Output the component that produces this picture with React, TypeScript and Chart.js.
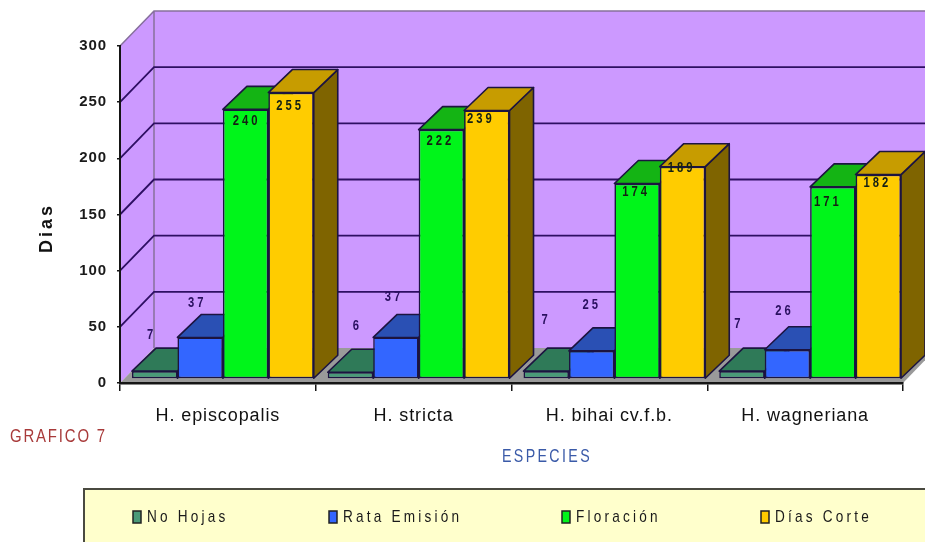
import { useEffect, useRef } from "react";
import { Chart, registerables } from "chart.js";

Chart.register(...registerables);

const categories = ["H. episcopalis", "H. stricta", "H. bihai cv.f.b.", "H. wagneriana"];
const noHojas = [7, 6, 7, 7];
const rataEmision = [37, 37, 25, 26];
const floracion = [240, 222, 174, 171];
const diasCorte = [255, 239, 189, 182];
const seriesNames = ["No Hojas", "Rata Emisión", "Floración", "Días Corte"];
const yAxisName = "Dias";
const xAxisName = "ESPECIES";
const sideNote = "GRAFICO 7";

// styles
const FRONT = ["#4a9a78", "#3366ff", "#00f51a", "#ffcc00"];
const TOP = ["#2f7a58", "#2a50b4", "#14b414", "#c79c00"];
const SIDE = ["#235c42", "#1f3c88", "#0e800e", "#7f6400"];
const INK = "#1c1440";
const FONT = '"Liberation Sans", Arial, sans-serif';
// floor/wall depth, bar inset and bar depth, in pixels
const WALL = { dx: 34, dy: -35 };
const INSET = { dx: 5, dy: -4 };
const DEPTH = { dx: 24, dy: -23 };
// hand-moved value labels: [dx, dy from the bar's top] per series, per category
const LABEL_NUDGE = [
  [[-3, -36], [7, -46], [0, -51], [-3, -47]],
  [[-3, -35], [-2, -41], [0, -46], [-3, -39]],
  [[1, 11], [-1, 11], [-1, 8], [-5, 15]],
  [[-1, 13], [-6, 8], [-1, 1], [-1, 8]],
];
const LEGEND_BOX = { x: 84, y: 489 };
const LEGEND_X = [137, 333, 566, 765];

function text(ctx: CanvasRenderingContext2D, s: string, x: number, y: number, font: string, color: string, spacing: number, align: CanvasTextAlign = "center", squeeze = 1) {
  ctx.save();
  ctx.translate(x, y);
  ctx.scale(squeeze, 1);
  ctx.font = font;
  ctx.fillStyle = color;
  ctx.textAlign = align;
  ctx.textBaseline = "middle";
  (ctx as any).letterSpacing = spacing + "px";
  ctx.fillText(s, 0, 0);
  ctx.restore();
}

const poly = (ctx: CanvasRenderingContext2D, pts: number[][], fill: string, stroke?: string, lw = 1) => {
  ctx.beginPath();
  pts.forEach((p, i) => (i ? ctx.lineTo(p[0], p[1]) : ctx.moveTo(p[0], p[1])));
  ctx.closePath();
  ctx.fillStyle = fill;
  ctx.fill();
  if (stroke) {
    ctx.strokeStyle = stroke;
    ctx.lineWidth = lw;
    ctx.stroke();
  }
};

const scene = {
  id: "scene",
  beforeDraw(chart: any) {
    const { ctx, chartArea: a, scales } = chart;
    const { dx, dy } = WALL;
    ctx.save();
    // walls and floor
    poly(ctx, [[a.left + dx, a.top + dy], [a.right + dx, a.top + dy], [a.right + dx, a.bottom + dy], [a.left + dx, a.bottom + dy]], "#cc99ff");
    poly(ctx, [[a.left, a.top], [a.left + dx, a.top + dy], [a.left + dx, a.bottom + dy], [a.left, a.bottom]], "#cc99ff");
    poly(ctx, [[a.left, a.bottom], [a.right, a.bottom], [a.right + dx, a.bottom + dy], [a.left + dx, a.bottom + dy]], "#9a9a9a");
    // wall edges
    ctx.strokeStyle = "#86709c";
    ctx.lineWidth = 1.5;
    ctx.beginPath();
    ctx.moveTo(a.left, a.top);
    ctx.lineTo(a.left + dx, a.top + dy);
    ctx.lineTo(a.right + dx + 5, a.top + dy);
    ctx.moveTo(a.left + dx, a.top + dy);
    ctx.lineTo(a.left + dx, a.bottom + dy);
    ctx.stroke();
    // gridlines along the side wall and back wall
    ctx.strokeStyle = "#2e0f63";
    ctx.lineWidth = 1.8;
    scales.y.ticks.forEach((t: any) => {
      if (t.value === 0 || t.value === 300) return;
      const y = scales.y.getPixelForValue(t.value);
      ctx.beginPath();
      ctx.moveTo(a.left, y);
      ctx.lineTo(a.left + dx, y + dy);
      ctx.lineTo(a.right + dx + 5, y + dy);
      ctx.stroke();
    });
    // legend panel, running off the picture
    ctx.fillStyle = "#ffffcc";
    ctx.fillRect(LEGEND_BOX.x, LEGEND_BOX.y, 925, 80);
    ctx.strokeStyle = "#4a4a40";
    ctx.lineWidth = 2;
    ctx.strokeRect(LEGEND_BOX.x, LEGEND_BOX.y, 925, 80);
    ctx.restore();
    (ctx as any).letterSpacing = "0.9px";
  },
  beforeDatasetsDraw(chart: any) {
    const { ctx, data } = chart;
    ctx.save();
    ctx.lineJoin = "round";
    data.labels.forEach((_: string, c: number) => {
      data.datasets.forEach((_d: any, s: number) => {
        const bar = chart.getDatasetMeta(s).data[c];
        const half = bar.width / 2;
        const l = bar.x - half + INSET.dx;
        const r = bar.x + half + INSET.dx;
        const t = bar.y + INSET.dy;
        const b = bar.base + INSET.dy;
        poly(ctx, [[r, t], [r + DEPTH.dx, t + DEPTH.dy], [r + DEPTH.dx, b + DEPTH.dy], [r, b]], SIDE[s], INK, 1.6);
        poly(ctx, [[l, t], [r, t], [r + DEPTH.dx, t + DEPTH.dy], [l + DEPTH.dx, t + DEPTH.dy]], TOP[s], INK, 1.6);
      });
    });
    ctx.restore();
  },
  beforeDatasetDraw(chart: any) {
    chart.ctx.save();
    chart.ctx.translate(INSET.dx, INSET.dy);
  },
  afterDatasetDraw(chart: any) {
    chart.ctx.restore();
  },
  afterDraw(chart: any) {
    const { ctx, data } = chart;
    ctx.save();
    // value labels
    data.datasets.forEach((d: any, s: number) => {
      chart.getDatasetMeta(s).data.forEach((bar: any, c: number) => {
        const [nx, ny] = LABEL_NUDGE[s][c];
        const color = s < 2 ? "#2a1060" : "#142014";
        text(ctx, String(d.data[c]), bar.x + INSET.dx + nx, bar.y + INSET.dy + ny, `bold 15px ${FONT}`, color, 4, "center", 0.75);
      });
    });
    // axis names and note
    ctx.save();
    ctx.translate(47, 228);
    ctx.rotate(-Math.PI / 2);
    text(ctx, yAxisName, 0, 0, `bold 18px ${FONT}`, "#111", 3);
    ctx.restore();
    text(ctx, xAxisName, 547, 457, `18px ${FONT}`, "#3a5aa8", 3, "center", 0.79);
    text(ctx, sideNote, 10, 437, `18px ${FONT}`, "#a83a3a", 2.2, "left", 0.83);
    // legend
    data.datasets.forEach((d: any, s: number) => {
      const x = LEGEND_X[s];
      ctx.fillStyle = FRONT[s];
      ctx.fillRect(x - 4, 511, 8, 12);
      ctx.strokeStyle = "#222";
      ctx.lineWidth = 1.5;
      ctx.strokeRect(x - 4, 511, 8, 12);
      text(ctx, d.label, x + 10, 517, `17px ${FONT}`, "#1a1a1a", 4, "left", 0.8);
    });
    ctx.restore();
  },
};

export default function App() {
  const ref = useRef<HTMLCanvasElement>(null);
  useEffect(() => {
    const values = [noHojas, rataEmision, floracion, diasCorte];
    const chart = new Chart(ref.current!, {
      type: "bar",
      data: {
        labels: categories,
        datasets: values.map((v, i) => ({
          label: seriesNames[i],
          data: v,
          backgroundColor: FRONT[i],
          borderColor: INK,
          borderWidth: 1.6,
          borderSkipped: false,
          categoryPercentage: 182 / 196,
          barPercentage: 1,
        })),
      },
      options: {
        animation: false,
        responsive: false,
        devicePixelRatio: 1,
        layout: { padding: { top: 46, right: 22, left: 0, bottom: 0 } },
        plugins: { legend: { display: false }, title: { display: false }, tooltip: { enabled: false } },
        scales: {
          x: {
            afterFit: (s: any) => { s.height = 159; },
            grid: { drawOnChartArea: false, offset: true, tickLength: 8, color: "#151515", lineWidth: 1.5 },
            border: { color: "#151515", width: 2.5 },
            ticks: { maxRotation: 0, autoSkip: false, padding: 14, color: "#111", font: { family: FONT, size: 18 } },
          },
          y: {
            min: 0,
            max: 300,
            afterFit: (s: any) => { s.width = 120; },
            grid: { drawOnChartArea: false, tickLength: 3, color: "#151515", lineWidth: 1.5 },
            border: { color: "#151515", width: 2 },
            ticks: { stepSize: 50, padding: 10, color: "#1a1a1a", font: { family: FONT, size: 15, weight: "bold" } },
          },
        },
      } as any,
      plugins: [scene],
    });
    return () => chart.destroy();
  }, []);
  return (
    <canvas
      ref={ref}
      width={925}
      height={542}
      style={{ position: "absolute", left: 0, top: 0, width: 925, height: 542, display: "block", background: "#fff" }}
    />
  );
}
